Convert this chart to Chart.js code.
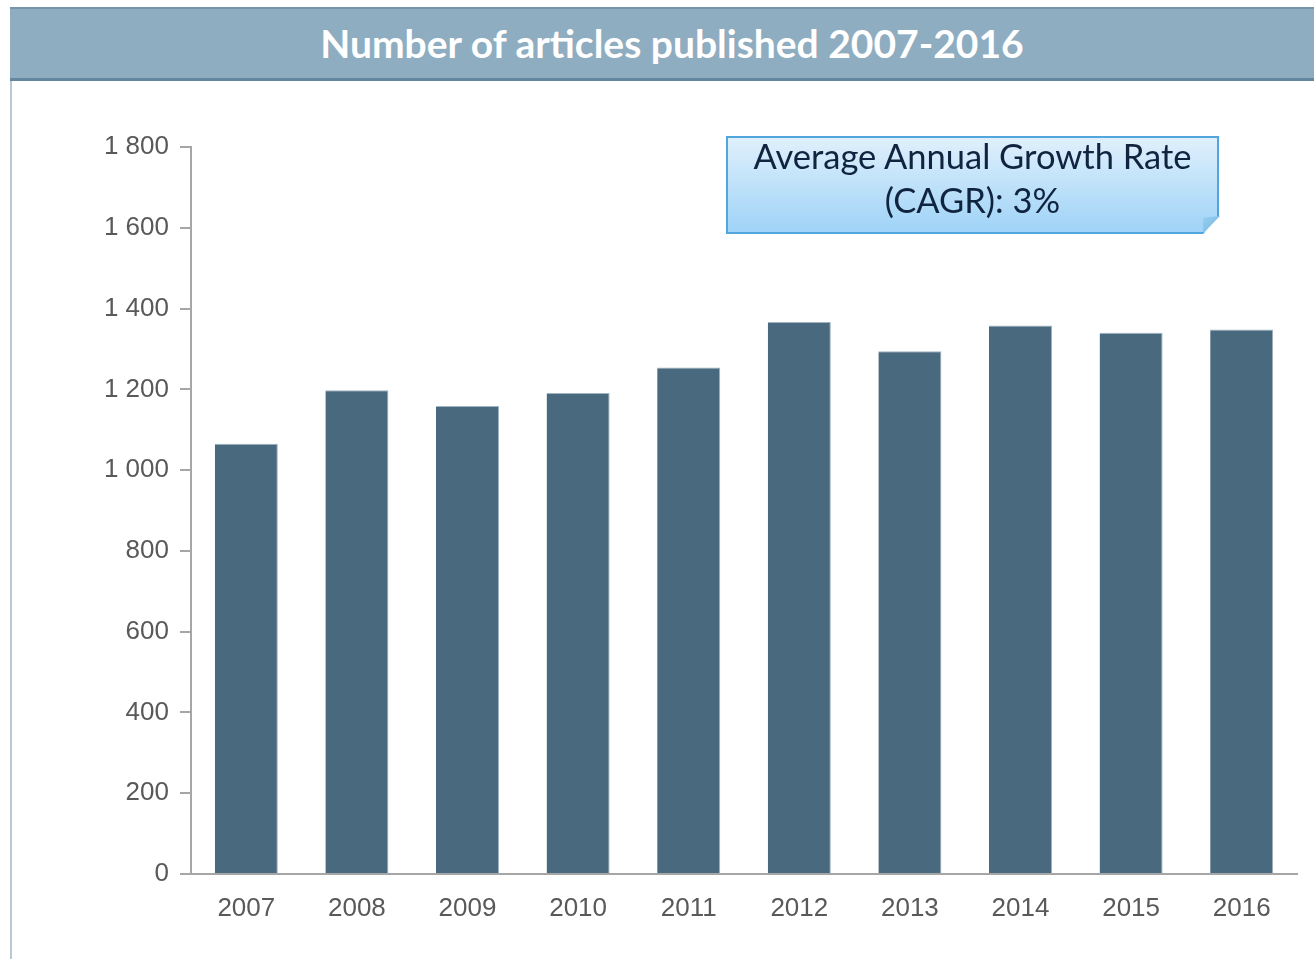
<!DOCTYPE html>
<html>
<head>
<meta charset="utf-8">
<script src="https://cdn.jsdelivr.net/npm/chart.js@4"></script>
<style>
  html, body { margin: 0; padding: 0; background: #fff; }
  body { width: 1314px; height: 959px; position: relative; overflow: hidden; }
  #frame {
    position: absolute; left: 10px; top: 80px; width: 1400px; height: 900px;
    border-left: 2px solid #b9c9d4;
  }
  #titleBar {
    position: absolute; left: 10px; top: 7px; width: 1400px; height: 69px;
    background: #8fadc1; border-top: 2px solid #7396ad; border-bottom: 3px solid #62879e;
  }
  #titleText {
    position: absolute; left: 0; top: 7px; width: 1344px; height: 72px; line-height: 72px;
    text-align: center; color: #fff; font-family: Lato, sans-serif; font-weight: bold; font-size: 39px;
  }
  #callout {
    position: absolute; left: 726px; top: 136px; width: 493px; height: 98px;
    background: linear-gradient(#dff0fc, #9fd3f7);
    border: 2px solid #52a6dd;
    box-shadow: 3px 4px 5px rgba(0,0,0,0.3);
    color: #10233f; font-family: Lato, sans-serif; font-size: 34.5px; line-height: 44px;
    text-align: center; box-sizing: border-box; padding-top: 0;
    clip-path: polygon(0 0, 100% 0, 100% 82%, 96.8% 100%, 0 100%);
  }
  #calloutText { position: relative; top: -4px; }
  #fold {
    position: absolute; left: 1203px; top: 216px; width: 17px; height: 17px;
    background: linear-gradient(135deg, #9bcff0, #6fb4e0);
    clip-path: polygon(100% 0, 0 100%, 0 10%);
  }
  #wrap { position: absolute; left: 0; top: 0; width: 1314px; height: 959px; }
</style>
</head>
<body>
<div id="frame"></div>
<div id="titleBar"></div>
<div id="titleText">Number of articles published 2007-2016</div>
<div id="wrap"><canvas id="articlesChart"></canvas></div>
<div id="callout"><div id="calloutText">Average Annual Growth Rate<br>(CAGR): 3%</div></div>
<div id="fold"></div>
<script>
const years = ["2007", "2008", "2009", "2010", "2011", "2012", "2013", "2014", "2015", "2016"];
const articles = [1065, 1198, 1159, 1191, 1254, 1367, 1294, 1358, 1340, 1348];
const yTicks = [0, 200, 400, 600, 800, 1000, 1200, 1400, 1600, 1800];

function fmtThousands(v) {
  return String(v).replace(/\B(?=(\d{3})+(?!\d))/g, " ");
}

document.addEventListener("DOMContentLoaded", function () {
  const ctx = document.getElementById("articlesChart").getContext("2d");
  new Chart(ctx, {
    type: "bar",
    data: {
      labels: years,
      datasets: [
        {
          label: "Articles",
          data: articles,
          backgroundColor: "#48697e",
          borderColor: "#9fb3c0",
          borderWidth: { top: 1, left: 0, right: 1, bottom: 0 },
          barPercentage: 0.57,
          categoryPercentage: 1,
        },
      ],
    },
    options: {
      responsive: true,
      maintainAspectRatio: false,
      animation: false,
      layout: { padding: { top: 147, right: 17, left: 0, bottom: 0 } },
      plugins: { legend: { display: false }, tooltip: { enabled: false } },
      scales: {
        x: {
          grid: { display: false },
          border: { display: true, color: "#a6a6a6", width: 2 },
          ticks: { color: "#595959", font: { family: "Liberation Sans", size: 26 }, padding: 11 },
          afterFit: function (scale) { scale.height = 85; },
        },
        y: {
          min: 0,
          max: 1800,
          afterBuildTicks: function (scale) {
            scale.ticks = yTicks.map(function (v) { return { value: v }; });
          },
          grid: { drawOnChartArea: false, drawTicks: true, tickLength: 11, color: "#a6a6a6", lineWidth: 2 },
          border: { display: true, color: "#a6a6a6", width: 2 },
          ticks: {
            color: "#595959",
            font: { family: "Liberation Sans", size: 26 },
            padding: 11,
            callback: function (v) { return fmtThousands(v); },
          },
          afterFit: function (scale) { scale.width = 191; },
        },
      },
    },
  });
});
</script>
</body>
</html>
